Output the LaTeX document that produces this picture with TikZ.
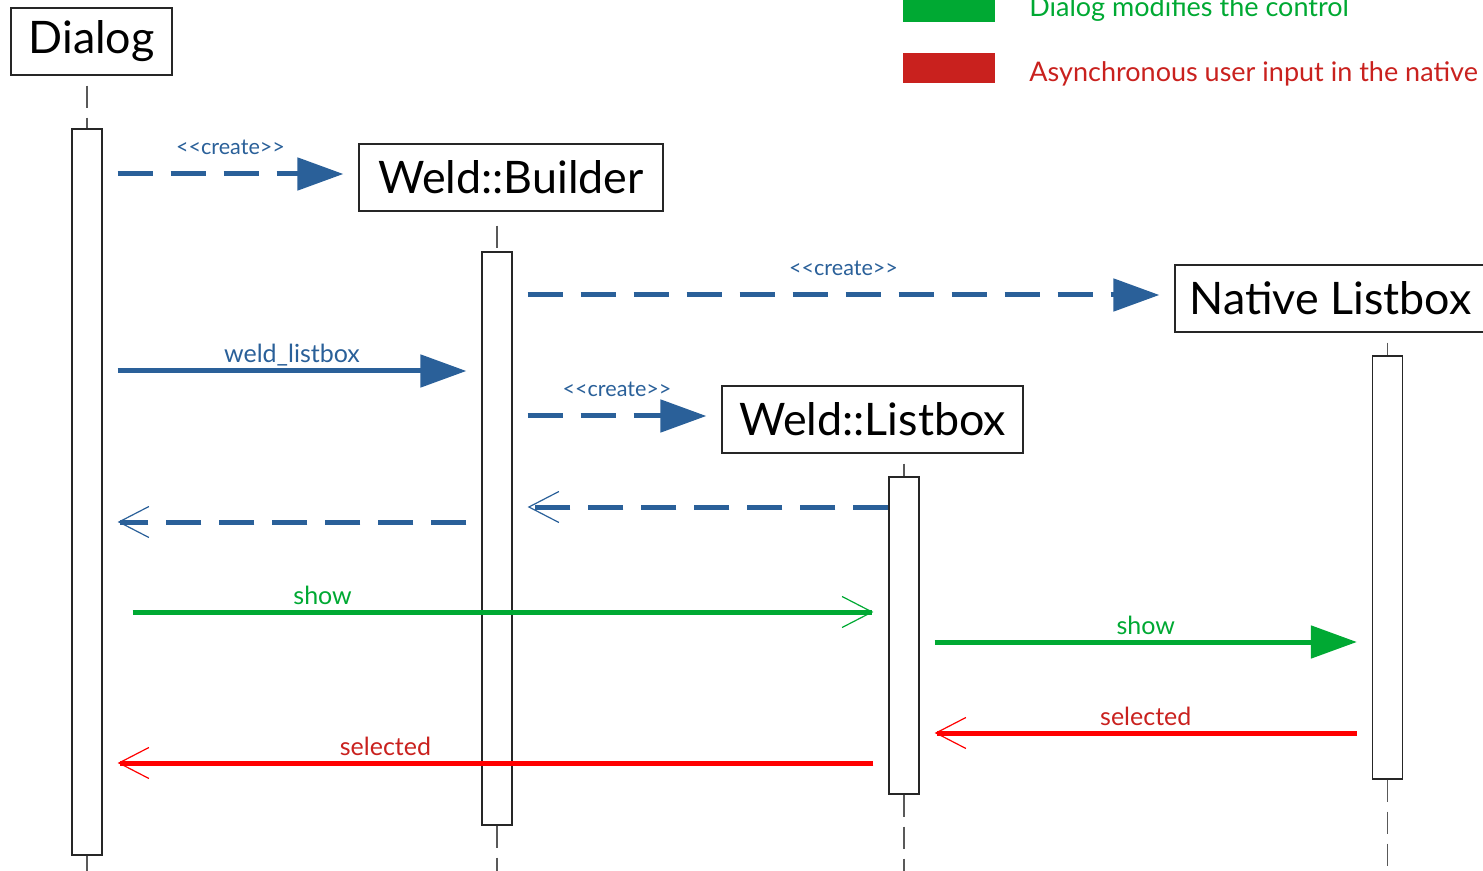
\documentclass[tikz,border=0pt]{standalone}
\usepackage{fontspec}
\setmainfont{Lato}
\usetikzlibrary{arrows.meta}

\definecolor{umlblue}{RGB}{42,96,153}
\definecolor{umlgreen}{RGB}{0,169,51}
\definecolor{umlred}{RGB}{255,0,0}
\definecolor{darkred}{RGB}{201,33,30}
\def\objfont{\fontsize{22.4}{27}\selectfont}
\def\msgfont{\fontsize{12.5}{15}\selectfont}
\def\crfont{\fontsize{10.8}{13}\selectfont}
\def\keyfont{\fontsize{13.5}{16}\selectfont}
\def\create{<\kern0pt<create>\kern0pt>}
\tikzstyle{object}=[draw=black!85,line width=0.6pt,minimum height=33.5pt,
                    inner sep=0pt,font=\objfont]
\tikzstyle{activation}=[draw=black!85,fill=white,line width=0.6pt,
                        minimum width=15pt,inner sep=0pt]
\tikzstyle{lifeline}=[draw=black!65,line width=0.6pt,dash pattern=on 11pt off 5pt]
\tikzstyle{message}=[line width=2.5pt,shorten <=7.5pt,shorten >=7.5pt]
\tikzstyle{call}=[message,-{Triangle[length=23pt,width=16pt]}]
\tikzstyle{reply}=[message,-{Bar[width=0pt,sep=0pt] Straight Barb[length=15pt,width=15.5pt,line width=0.6pt,sep=0pt]}]
\tikzstyle{dashedmsg}=[dash pattern=on 17.5pt off 9pt]
\tikzstyle{mlabel}=[anchor=base,inner sep=0pt,yshift=4pt,font=\msgfont]
\tikzstyle{clabel}=[anchor=base,inner sep=0pt,yshift=9.5pt,font=\crfont,text=umlblue]
\tikzstyle{key}=[minimum width=46pt,minimum height=15pt,inner sep=0pt]

\begin{document}
\begin{tikzpicture}[x=0.5pt,y=-0.5pt]
  \useasboundingbox (0,0) rectangle (1483,871);

  % Objects
  \node[object,minimum width=80.5pt] (dialog) at (91.5,41.5) {Dialog};
  \node[object,minimum width=152pt] (builder) at (511,177.5) {Weld::Builder};
  \node[object,minimum width=155.5pt] (native) at (1330.5,298.5) {Native Listbox};
  \node[object,minimum width=150.5pt] (listbox) at (872.5,419.5) {Weld::Listbox};

  % Activations
  \node[activation,minimum height=363pt] (dialogbar) at (87,492) {};
  \node[activation,minimum height=286.5pt] (builderbar) at (497,538.5) {};
  \node[activation,minimum height=211.5pt] (nativebar) at (1387.5,567.5) {};
  \node[activation,minimum height=158.5pt] (listboxbar) at (904,635.5) {};

  % Lifelines
  \draw[lifeline] ([yshift=-5pt]dialog.south -| dialogbar.north) -- (dialogbar.north)
                  (dialogbar.south) -- (dialogbar.south |- 0,880);
  \draw[lifeline] ([yshift=-7pt]builder.south -| builderbar.north) -- (builderbar.north)
                  (builderbar.south) -- (builderbar.south |- 0,880);
  \draw[lifeline] ([yshift=-5pt]native.south -| nativebar.north) -- (nativebar.north)
                  (nativebar.south) -- (nativebar.south |- 0,880);
  \draw[lifeline] ([yshift=-5pt]listbox.south -| listboxbar.north) -- (listboxbar.north)
                  (listboxbar.south) -- (listboxbar.south |- 0,880);

  % Creation
  \path (dialogbar.east |- 0,174) edge[call,dashedmsg,umlblue]
        node[clabel] {\create} (builder.west |- 0,174);
  \path (builderbar.east |- 0,295) edge[call,dashedmsg,umlblue]
        node[clabel] {\create} (native.west |- 0,295);
  \path (dialogbar.east |- 0,371) edge[call,umlblue]
        node[mlabel,text=umlblue] {weld\_listbox} (builderbar.west |- 0,371);
  \path (builderbar.east |- 0,416) edge[call,dashedmsg,umlblue]
        node[clabel] {\create} (listbox.west |- 0,416);

  % Replies
  \path (builderbar.west |- 0,522) edge[reply,dashedmsg,umlblue] (dialogbar.east |- 0,522);
  \path (listboxbar.west |- 0,507) edge[reply,dashedmsg,umlblue,shorten <=0pt]
        (builderbar.east |- 0,507);

  % Dialog modifies the control
  \path (dialogbar.east |- 0,612) edge[reply,umlgreen,shorten <=15pt]
        node[mlabel,pos=0.28,text=umlgreen] {show} (listboxbar.west |- 0,612);
  \path (listboxbar.east |- 0,642) edge[call,umlgreen]
        node[mlabel,text=umlgreen] {show} (nativebar.west |- 0,642);

  % Asynchronous user input
  \path (nativebar.west |- 0,733) edge[reply,umlred]
        node[mlabel,text=darkred] {selected} (listboxbar.east |- 0,733);
  \path (listboxbar.west |- 0,763) edge[reply,umlred]
        node[mlabel,pos=0.64,text=darkred] {selected} (dialogbar.east |- 0,763);

  % Legend
  \node[key,fill=umlgreen] (keymodify) at (949,7) {};
  \node[key,fill=darkred] (keyinput) at (949,68) {};
  \node[anchor=base west,inner sep=0pt,font=\keyfont,text=umlgreen] (txtmodify)
        at (1029,17) {Dialog modifies the control};
  \node[anchor=base west,inner sep=0pt,font=\keyfont,text=darkred] (txtinput)
        at (1029,82) {Asynchronous user input in the native};
\end{tikzpicture}
\end{document}
